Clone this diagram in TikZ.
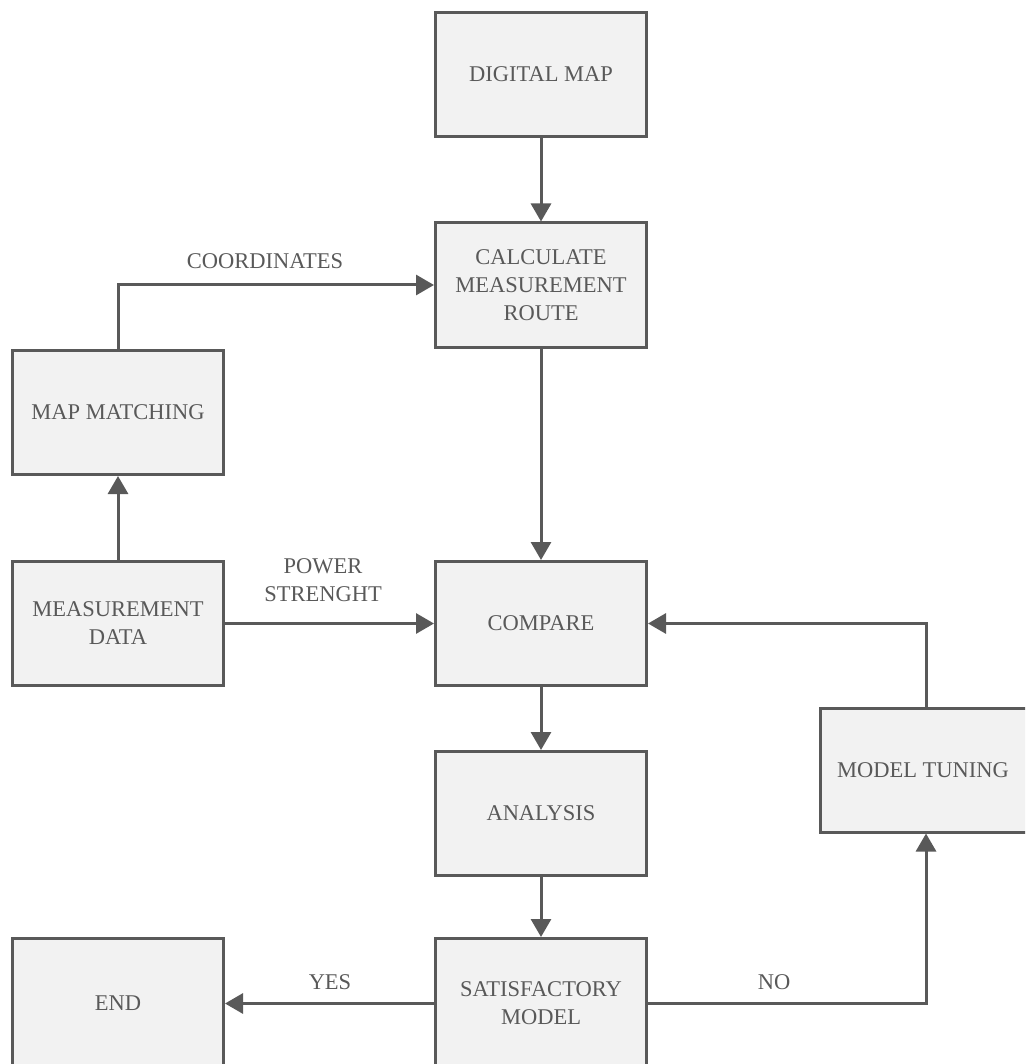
\documentclass[tikz,border=0pt]{standalone}
\usepackage{fontspec}
\setmainfont{Liberation Serif}
\usetikzlibrary{arrows.meta}
\definecolor{ink}{HTML}{595959}
\definecolor{boxfill}{HTML}{F2F2F2}
\begin{document}
\begin{tikzpicture}[x=1pt,y=-1pt,
  box/.style={draw=ink, fill=boxfill, line width=3pt, minimum width=211pt, minimum height=124pt,
    inner sep=0pt, align=center, text=ink, font=\fontsize{22.5}{28}\selectfont},
  conn/.style={draw=ink, line width=3pt, -{Triangle[length=18pt,width=20pt]}},
  lbl/.style={text=ink, align=center, inner sep=0pt, font=\fontsize{22.5}{28}\selectfont}]
\useasboundingbox (0,0) rectangle (1025,1064);
\clip (0,0) rectangle (1025,1064);
\node[box] (dm) at (541,74.5) {DIGITAL MAP};
\node[box] (calc) at (541,285) {CALCULATE\\MEASUREMENT\\ROUTE};
\node[box] (mm) at (118,412.5) {MAP MATCHING};
\node[box] (md) at (118,623.5) {MEASUREMENT\\DATA};
\node[box] (cmp) at (541,623.5) {COMPARE};
\node[box] (ana) at (541,813.5) {ANALYSIS};
\node[box] (mt) at (926,770) {MODEL TUNING\hspace*{6pt}};
\node[box, minimum height=130pt] (end) at (118,1003.5) {END};
\node[box, minimum height=130pt] (sat) at (541,1003.5) {SATISFACTORY\\MODEL};
\draw[conn] (dm) -- (calc);
\draw[conn] (mm.north) |- (calc.west);
\draw[conn] (md) -- (mm);
\draw[conn] (md) -- (cmp);
\draw[conn] (calc) -- (cmp);
\draw[conn] (cmp) -- (ana);
\draw[conn] (ana) -- (sat);
\draw[conn] (sat) -- (end);
\draw[conn] (sat.east) -| (mt.south);
\draw[conn] (mt.north) |- (cmp.east);
\node[lbl] (lcoord) at (265,261) {COORDINATES};
\node[lbl] (lpow) at (323,580) {POWER\\STRENGHT};
\node[lbl] (lyes) at (330,982) {YES};
\node[lbl] (lno) at (774,982) {NO};
\end{tikzpicture}
\end{document}
